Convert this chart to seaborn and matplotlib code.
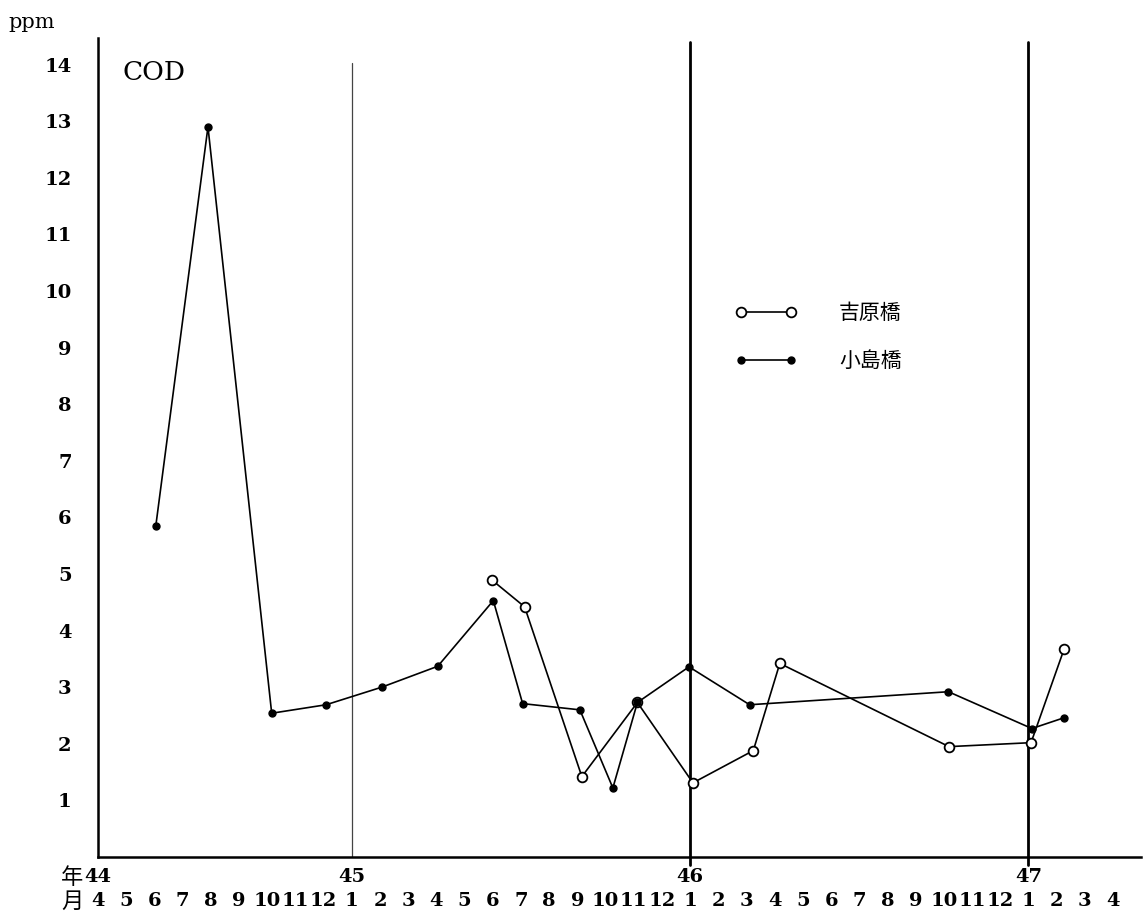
import matplotlib
matplotlib.use('Agg')
import matplotlib.pyplot as plt
import seaborn as sns

# month index: 0 = 44/4 ... 36 = 47/4
month_labels = ['4', '5', '6', '7', '8', '9', '10', '11', '12',
                '1', '2', '3', '4', '5', '6', '7', '8', '9', '10', '11', '12',
                '1', '2', '3', '4', '5', '6', '7', '8', '9', '10', '11', '12',
                '1', '2', '3', '4']
year_labels = ['44', '45', '46', '47']
year_pos = [0, 9, 21, 33]

# 小島橋 (filled)
kojima_x = [2.05, 3.9, 6.16, 8.09, 10.06, 12.05, 14.02, 15.06, 17.09, 18.26,
            19.13, 20.96, 23.11, 30.16, 33.12, 34.26]
kojima_y = [5.85, 12.9, 2.54, 2.69, 3.0, 3.37, 4.53, 2.71, 2.6, 1.22,
            2.73, 3.36, 2.69, 2.92, 2.27, 2.46]

# 吉原橋 (open)
yoshi_x = [13.98, 15.13, 17.16, 19.13, 21.1, 23.24, 24.18, 30.18, 33.09, 34.26]
yoshi_y = [4.89, 4.42, 1.42, 2.73, 1.31, 1.88, 3.42, 1.95, 2.02, 3.67]

sns.set_style('white')
plt.rcParams['font.family'] = ['DejaVu Serif', 'Noto Sans CJK JP']
plt.rcParams['text.color'] = 'black'
plt.rcParams['xtick.color'] = 'black'
plt.rcParams['ytick.color'] = 'black'
cjk = ['Noto Sans CJK JP', 'DejaVu Sans']

W, H = 1143, 913
fig = plt.figure(figsize=(W / 100, H / 100), dpi=100)
ax = fig.add_axes([98 / W, 56 / H, 1043 / W, 819 / H])

# year boundary lines
ax.axvline(9, ymin=0.0, ymax=0.97, color='#444444', lw=0.9, zorder=1)
for x in [21, 33]:
    ax.axvline(x, ymin=-0.01, ymax=0.995, color='black', lw=2, zorder=1, clip_on=False)

sns.lineplot(x=yoshi_x, y=yoshi_y, sort=False, estimator=None, ax=ax,
             color='black', linewidth=1.2, marker='o', markersize=7,
             markerfacecolor='white', markeredgecolor='black',
             markeredgewidth=1.3, label='吉原橋', zorder=3)
sns.lineplot(x=kojima_x, y=kojima_y, sort=False, estimator=None, ax=ax,
             color='black', linewidth=1.2, marker='o', markersize=5,
             markerfacecolor='black', markeredgecolor='black',
             markeredgewidth=1, label='小島橋', zorder=4)

ax.set_xlim(0, 36.99)
ax.set_ylim(0, 14.47)
sns.despine(ax=ax)
for s in ['left', 'bottom']:
    ax.spines[s].set_linewidth(1.8)
    ax.spines[s].set_color('black')

ax.set_xticks(range(len(month_labels)))
ax.set_xticklabels(month_labels, fontsize=14, fontweight='bold')
ax.tick_params(axis='x', direction='in', length=6, width=1.2, pad=25, colors='black')
ax.set_yticks(range(1, 15))
ax.set_yticklabels([str(v) for v in range(1, 15)], fontsize=14, fontweight='bold')
ax.tick_params(axis='y', direction='inout', length=8, width=1.2, pad=15, colors='black')
ax.set_xlabel('')
ax.set_ylabel('')

for lab, pos in zip(year_labels, year_pos):
    ax.text(pos, -0.025, lab, transform=ax.get_xaxis_transform(), ha='center',
            va='center', fontsize=14, fontweight='bold', color='black')

fig.text(72 / W, 1 - 877 / H, '年', family=cjk, fontsize=16, ha='center', va='center')
fig.text(72 / W, 1 - 901 / H, '月', family=cjk, fontsize=16, ha='center', va='center')
fig.text(8 / W, 1 - 22 / H, 'ppm', fontsize=15, ha='left', va='center')
fig.text(123 / W, 1 - 73 / H, 'COD', fontsize=19, ha='left', va='center')

handles, labels = ax.get_legend_handles_labels()
leg = ax.legend(handles, labels, loc='upper left', bbox_to_anchor=(735 / W, 1 - 302 / H),
                bbox_transform=fig.transFigure, frameon=False, numpoints=2,
                handlelength=3, handletextpad=2, labelspacing=1.25, borderpad=0,
                borderaxespad=0, prop={'family': cjk, 'size': 15})
for t in leg.get_texts():
    t.set_color('black')

fig.savefig('out.png', dpi=100)
